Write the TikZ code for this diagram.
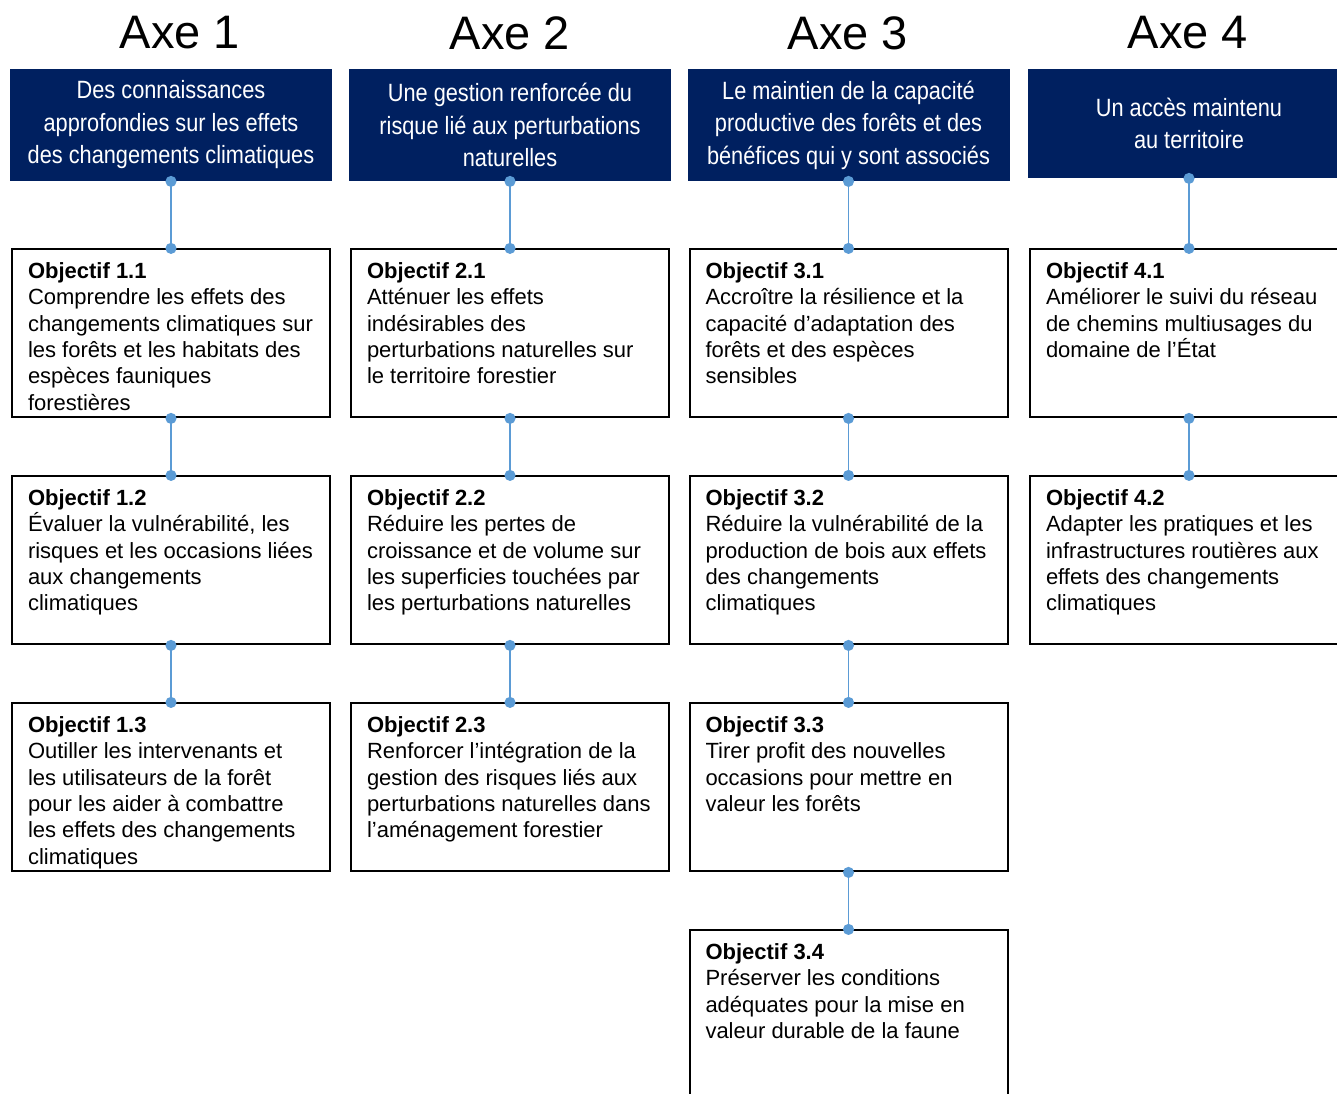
\documentclass[tikz,border=0pt]{standalone}
\usepackage{fontspec}
\setmainfont{Liberation Sans}
\newfontfamily\narrowfont[FakeStretch=0.87]{Liberation Sans}
\usetikzlibrary{positioning, arrows.meta}

\definecolor{axenavy}{HTML}{002060}
\definecolor{linkblue}{HTML}{5B9BD5}

% objective text: bold title, then the lines, top aligned in a fixed box
\newcommand{\objtext}[2]{\parbox[t][71pt][t]{143pt}{\raggedright\textbf{#1}\\#2}}

\begin{document}
\begin{tikzpicture}[x=0.5pt, y=-0.5pt,
    axetitle/.style={font=\fontsize{23.5}{28}\selectfont},
    axehead/.style={fill=axenavy, text=white, align=center, inner sep=0pt,
        minimum width=161pt, minimum height=56pt,
        font=\narrowfont\fontsize{12.5}{16.25}\selectfont},
    objbox/.style={draw, line width=1pt, inner xsep=8pt, inner ysep=6.5pt,
        minimum width=158pt, minimum height=84pt,
        font=\fontsize{11}{13.2}\selectfont},
    link/.style={draw=linkblue, line width=0.75pt,
        {Circle[length=5.5pt, fill=linkblue]}-{Circle[length=5.5pt, fill=linkblue]},
        shorten <=-2.75pt, shorten >=-2.75pt}]

    \clip (0, 0) rectangle (1337, 1093);

    % Axe titles
    \node[axetitle] (t1) at (180, 33) {Axe 1};
    \node[axetitle] (t2) at (510, 33) {Axe 2};
    \node[axetitle] (t3) at (848, 33) {Axe 3};
    \node[axetitle] (t4) at (1188, 33) {Axe 4};

    % Axe headers
    \node[axehead] (h1) at (171, 125) {Des connaissances\\approfondies sur les effets\\des changements climatiques};
    \node[axehead] (h2) at (510, 125) {Une gestion renforcée du\\risque lié aux perturbations\\naturelles};
    \node[axehead] (h3) at (848.5, 125) {Le maintien de la capacité\\productive des forêts et des\\bénéfices qui y sont associés};
    \node[axehead, minimum height=54.5pt] (h4) at (1189, 123.5) {Un accès maintenu\\au territoire};

    % Axe 1
    \node[objbox, below=33.5pt of h1] (o11) {\objtext{Objectif 1.1}{Comprendre les effets des\\changements climatiques sur\\les forêts et les habitats des\\espèces fauniques\\forestières}};
    \node[objbox, below=28.5pt of o11] (o12) {\objtext{Objectif 1.2}{Évaluer la vulnérabilité, les\\risques et les occasions liées\\aux changements\\climatiques}};
    \node[objbox, below=28.5pt of o12] (o13) {\objtext{Objectif 1.3}{Outiller les intervenants et\\les utilisateurs de la forêt\\pour les aider à combattre\\les effets des changements\\climatiques}};

    % Axe 2
    \node[objbox, below=33.5pt of h2] (o21) {\objtext{Objectif 2.1}{Atténuer les effets\\indésirables des\\perturbations naturelles sur\\le territoire forestier}};
    \node[objbox, below=28.5pt of o21] (o22) {\objtext{Objectif 2.2}{Réduire les pertes de\\croissance et de volume sur\\les superficies touchées par\\les perturbations naturelles}};
    \node[objbox, below=28.5pt of o22] (o23) {\objtext{Objectif 2.3}{Renforcer l’intégration de la\\gestion des risques liés aux\\perturbations naturelles dans\\l’aménagement forestier}};

    % Axe 3
    \node[objbox, below=33.5pt of h3] (o31) {\objtext{Objectif 3.1}{Accroître la résilience et la\\capacité d’adaptation des\\forêts et des espèces\\sensibles}};
    \node[objbox, below=28.5pt of o31] (o32) {\objtext{Objectif 3.2}{Réduire la vulnérabilité de la\\production de bois aux effets\\des changements\\climatiques}};
    \node[objbox, below=28.5pt of o32] (o33) {\objtext{Objectif 3.3}{Tirer profit des nouvelles\\occasions pour mettre en\\valeur les forêts}};
    \node[objbox, below=28.5pt of o33] (o34) {\objtext{Objectif 3.4}{Préserver les conditions\\adéquates pour la mise en\\valeur durable de la faune}};

    % Axe 4
    \node[objbox, below=35pt of h4] (o41) {\objtext{Objectif 4.1}{Améliorer le suivi du réseau\\de chemins multiusages du\\domaine de l’État}};
    \node[objbox, below=28.5pt of o41] (o42) {\objtext{Objectif 4.2}{Adapter les pratiques et les\\infrastructures routières aux\\effets des changements\\climatiques}};

    % Connectors
    \draw[link] (h1.south) -- (o11.north);
    \draw[link] (o11.south) -- (o12.north);
    \draw[link] (o12.south) -- (o13.north);
    \draw[link] (h2.south) -- (o21.north);
    \draw[link] (o21.south) -- (o22.north);
    \draw[link] (o22.south) -- (o23.north);
    \draw[link] (h3.south) -- (o31.north);
    \draw[link] (o31.south) -- (o32.north);
    \draw[link] (o32.south) -- (o33.north);
    \draw[link] (o33.south) -- (o34.north);
    \draw[link] (h4.south) -- (o41.north);
    \draw[link] (o41.south) -- (o42.north);
\end{tikzpicture}
\end{document}
